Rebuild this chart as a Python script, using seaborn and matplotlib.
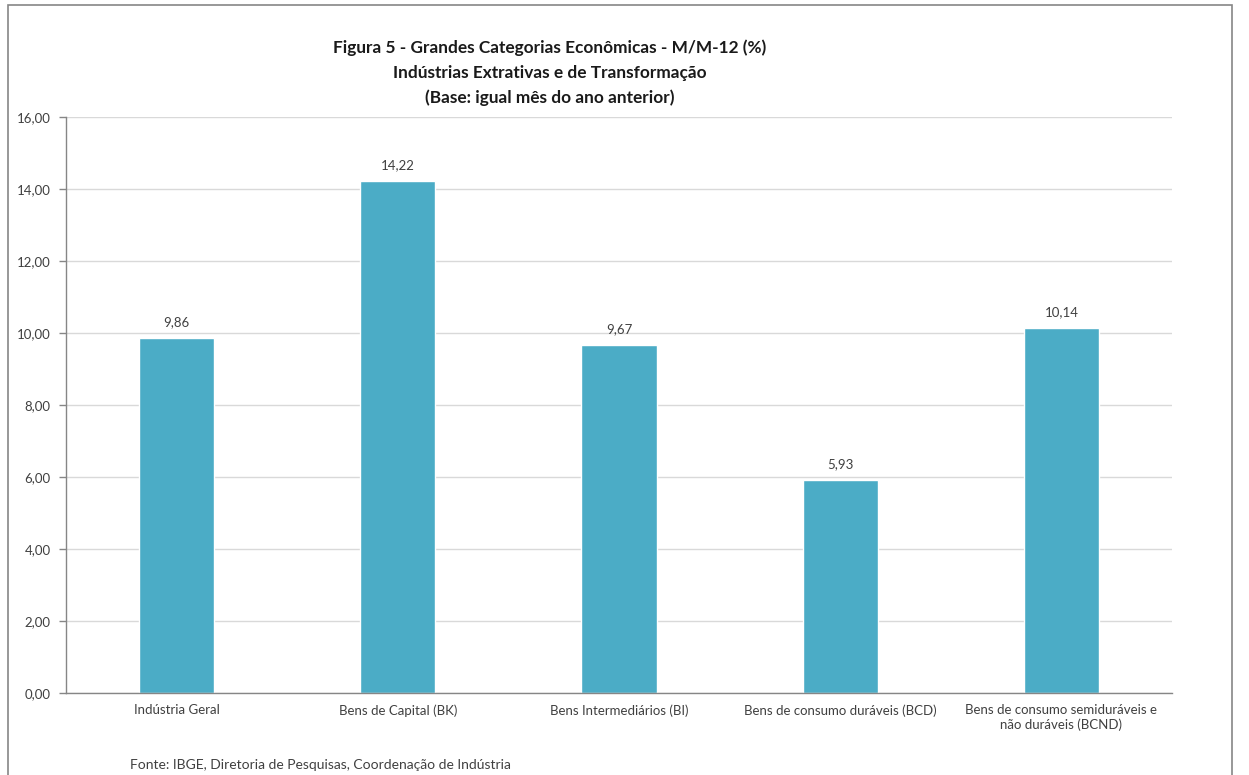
import matplotlib
matplotlib.use("Agg")
import matplotlib.pyplot as plt
import seaborn as sns
import pandas as pd
from matplotlib.patches import Rectangle
from matplotlib.ticker import FixedLocator

categories = ["Indústria Geral", "Bens de Capital (BK)", "Bens Intermediários (BI)",
              "Bens de consumo duráveis (BCD)", "Bens de consumo semiduráveis e\nnão duráveis (BCND)"]
values = [9.86, 14.22, 9.67, 5.93, 10.14]
yticks = [0, 2, 4, 6, 8, 10, 12, 14, 16]
title_lines = ["Figura 5 - Grandes Categorias Econômicas - M/M-12 (%)",
               "Indústrias Extrativas e de Transformação",
               "(Base: igual mês do ano anterior)"]
source = "Fonte: IBGE, Diretoria de Pesquisas, Coordenação de Indústria"

sns.set_theme(style="white")
plt.rcParams['font.family'] = ['Lato', 'DejaVu Sans']

df = pd.DataFrame({"cat": categories, "val": values})
fig = plt.figure(figsize=(12.49, 7.75), dpi=100)
ax = fig.add_axes([66/1249, 1-693/775, (1172-66)/1249, (693-117)/775])
sns.barplot(data=df, x="cat", y="val", color="#4BACC6", saturation=1, width=0.34, ax=ax)

ax.set_ylim(0, 16)
ax.set_xlim(-0.5, len(categories)-0.5)
ax.set_yticks(yticks)
ax.set_yticklabels([f"{v:.2f}".replace(".", ",") for v in yticks], fontsize=9.5, color="#404040")
ax.set_xticklabels(categories, fontsize=9.5, color="#404040")
ax.tick_params(axis="x", which="major", length=0, pad=8)
ax.xaxis.set_minor_locator(FixedLocator([i + 0.5 for i in range(-1, len(categories))]))
ax.tick_params(axis="x", which="minor", length=5, color="#868686", width=1, direction="out")
ax.tick_params(axis="y", length=5, color="#868686", width=1, direction="out", left=True, pad=6)
ax.set_xlabel("")
ax.set_ylabel("")
ax.grid(axis="y", color="#D9D9D9", linewidth=1)
ax.set_axisbelow(True)
for s in ["top", "right"]:
    ax.spines[s].set_visible(False)
for s in ["left", "bottom"]:
    ax.spines[s].set_color("#868686")
    ax.spines[s].set_linewidth(1)

for i, v in enumerate(values):
    ax.annotate(f"{v:.2f}".replace(".", ","), (i, v), xytext=(0, 7), textcoords="offset points",
                ha="center", va="bottom", fontsize=9.5, color="#404040")

ys = [1-48/775, 1-73/775, 1-98/775]
for t, y in zip(title_lines, ys):
    fig.text(550/1249, y, t, ha="center", va="center", fontsize=12.4, fontweight="bold", color="#1a1a1a")

fig.text(130/1249, 1-765/775, source, ha="left", va="center", fontsize=10, color="#404040")

fig.patches.append(Rectangle((8/1249, -0.05), (1232-8)/1249, 1.05-5/775, transform=fig.transFigure,
                             fill=False, edgecolor="#868686", linewidth=1.2))

fig.savefig("out.png", dpi=100, facecolor="white")
